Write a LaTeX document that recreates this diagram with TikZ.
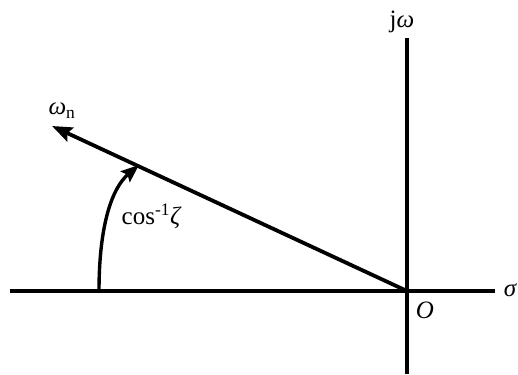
\documentclass[tikz,border=0pt]{standalone}
\usepackage{fontspec}
\setmainfont{Liberation Serif}
\usetikzlibrary{arrows.meta}
\newcommand{\gk}[1]{{\itshape #1}}
\begin{document}
\begin{tikzpicture}[x=1pt,y=-1pt,
  axis/.style={line width=3.2pt},
  vec/.style={line width=3.8pt,-{Stealth[length=20pt,width=15pt,inset=3pt]}},
  arcline/.style={line width=3.4pt,-{Stealth[length=18pt,width=14pt,inset=3pt]}},
  lbl/.style={font=\fontsize{25}{28}\selectfont,inner sep=0pt}]
\useasboundingbox (0,0) rectangle (518,374);
\coordinate (O) at (407,291);
\coordinate (xl) at (10,291);
\coordinate (xr) at (495,291);
\coordinate (yt) at (407,38);
\coordinate (yb) at (407,374);
\coordinate (wn) at (52,126);
\coordinate (as) at (99,291);
\coordinate (ae) at (139,165);
\draw[axis] (xl) -- (xr);
\draw[axis] (yb) -- (yt);
\draw[vec] (O) -- (wn);
\draw[arcline] (as) .. controls (99,225) and (112,188) .. (ae);
\node[lbl] (sig) at (510,290) {\gk{σ}};
\node[lbl] (jw) at (402,22) {j\gk{ω}};
\node[lbl] (o) at (425,310) {\gk{O}};
\node[lbl] (wnl) at (62,111) {\gk{ω}\textsubscript{n}};
\node[lbl] (ang) at (151,216) {cos\textsuperscript{-1}\gk{ζ}};
\end{tikzpicture}
\end{document}
